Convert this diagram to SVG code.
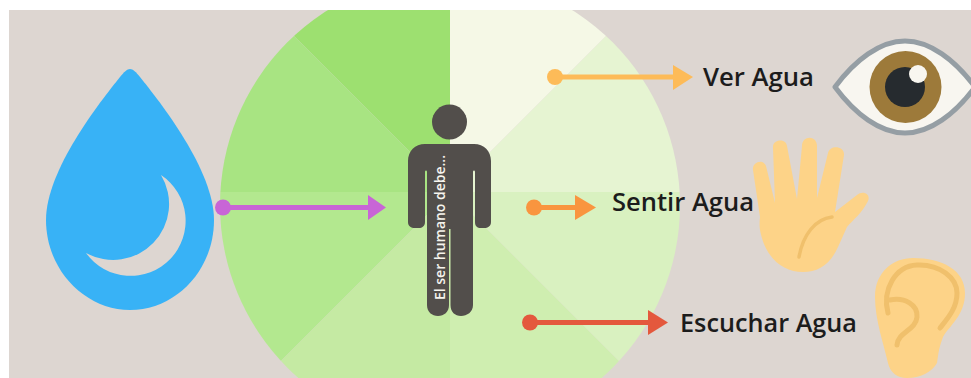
<svg xmlns="http://www.w3.org/2000/svg" width="971" height="378" viewBox="0 0 971 378">
<style>
.t{font-family:"Open Sans","Noto Sans",sans-serif;font-weight:600;font-size:26px;fill:#1c1c1c}
.skin{fill:#fdd388}
.crease{fill:none;stroke:#f0c06c;stroke-linecap:round}
</style>
<defs>
<clipPath id="c"><circle cx="450" cy="205" r="230"/></clipPath>
<clipPath id="frame"><rect x="9" y="10" width="962" height="368"/></clipPath>
</defs>
<rect width="971" height="378" fill="#fff"/>
<rect x="9" y="10" width="962" height="368" fill="#ddd6d1"/>
<g id="wheel" clip-path="url(#frame)">
<g clip-path="url(#c)">
<path d="M450 192V-108H150Z" fill="#9de070"/>
<path d="M450 192L150 -108H150V192Z" fill="#a8e482"/>
<path d="M450 192H150V492Z" fill="#b3e88f"/>
<path d="M450 192L150 492H450Z" fill="#c5eaa3"/>
<path d="M450 192V492H750Z" fill="#cfeeb0"/>
<path d="M450 192L750 492V192Z" fill="#d9f1c0"/>
<path d="M450 192H750V-108Z" fill="#e6f4d2"/>
<path d="M450 192L750 -108H450Z" fill="#f5f8e6"/>
</g>
</g>
<g id="drop">
<path d="M130 69C127 69 124 72 120 77C100 102 46 170 46 220C46 270 85 310 130 310C176 310 214 270 214 220C214 170 160 102 140 77C136 72 133 69 130 69Z" fill="#38b2f6"/>
<path d="M161 175A55 55 0 1 1 86 253A56 56 0 0 0 161 175Z" fill="#ddd6d1"/>
</g>
<g id="connectors">
<g fill="#c865d6"><circle cx="223" cy="207.500" r="8"/><rect x="223" y="205" width="150" height="5"/><path d="M368 195L386 207.500L368 220Z"/></g>
<g fill="#fdbb58"><circle cx="555" cy="77" r="8"/><rect x="555" y="74.500" width="122" height="5"/><path d="M673 65L693 77L673 90Z"/></g>
<g fill="#f9953f"><circle cx="534" cy="207.500" r="8"/><rect x="534" y="205" width="46" height="5"/><path d="M575 195L596 207.500L575 220Z"/></g>
<g fill="#e4583d"><circle cx="530" cy="322.500" r="8"/><rect x="530" y="320" width="122" height="5"/><path d="M648 310L668 322.500L648 335Z"/></g>
</g>
<g id="person" fill="#524e4b">
<circle cx="449.500" cy="122" r="17.500"/>
<path d="M425 144H474C484 144 491 151 491 161V222C491 226 488 228 484 228H481C477 228 475 226 475 222V172C475 170 473 170 473 172V305C473 312 467 316 461 316C455 316 450.500 312 450.500 305V229H449V305C449 312 444 316 438 316C432 316 427 312 427 305V172C427 170 425 170 425 172V222C425 226 422 228 419 228H415C411 228 408 226 408 222V161C408 151 415 144 425 144Z"/>
<text transform="translate(445,300) rotate(-90)" font-family="'Open Sans','Noto Sans',sans-serif" font-weight="600" font-size="15" fill="#f6f4ee" textLength="145" lengthAdjust="spacingAndGlyphs">El ser humano debe...</text>
</g>
<g id="ver"><text class="t" x="703" y="86" textLength="111" lengthAdjust="spacingAndGlyphs">Ver Agua</text></g>
<g id="sentir"><text class="t" x="612" y="211" textLength="142" lengthAdjust="spacingAndGlyphs">Sentir Agua</text></g>
<g id="escuchar"><text class="t" x="680" y="332" textLength="177" lengthAdjust="spacingAndGlyphs">Escuchar Agua</text></g>
<g id="eye">
<path d="M835 87C855 60 880 41 905 41C930 41 955 60 975 87C955 114 930 133 905 133C880 133 855 114 835 87Z" fill="#f8f6f0" stroke="#959ea4" stroke-width="5" stroke-linejoin="round"/>
<circle cx="905.500" cy="87" r="36" fill="#9d7a3a"/>
<circle cx="905" cy="87" r="20" fill="#262b2f"/>
<circle cx="918" cy="74" r="9" fill="#f8f6f0"/>
</g>
<g id="hand">
<path class="skin" d="M760 230C759 224 760 218 760 217L753 170C752 162 763 158 766 166L775 203L773 148C772 139 786 138 787 146L797 199L802 146C802 135 817 135 817 146V198L828 153C830 144 845 146 844 155L835 212L857 195C863 190 871 194 868 201C862 213 853 220 847 227L838 247C830 265 818 272 803 272C783 272 765 258 760 230Z"/>
<path class="crease" stroke-width="3.500" d="M832 217C815 219 803 235 799 257"/>
</g>
<g id="ear">
<path class="skin" d="M875 297C875 272 893 258 913 258C942 258 965 270 965 293C965 315 950 325 943 337C938 350 938 358 937 363C932 372 920 378 907 378C897 378 890 372 888 363C884 345 875 320 875 297Z"/>
<path class="crease" stroke-width="5" d="M888 313C882 290 895 266 917 265C940 264 957 278 957 293C957 308 948 318 940 328"/>
<path class="crease" stroke-width="5" d="M890 300C905 297 918 305 917 317C916 330 898 332 897 345"/>
</g>
</svg>
